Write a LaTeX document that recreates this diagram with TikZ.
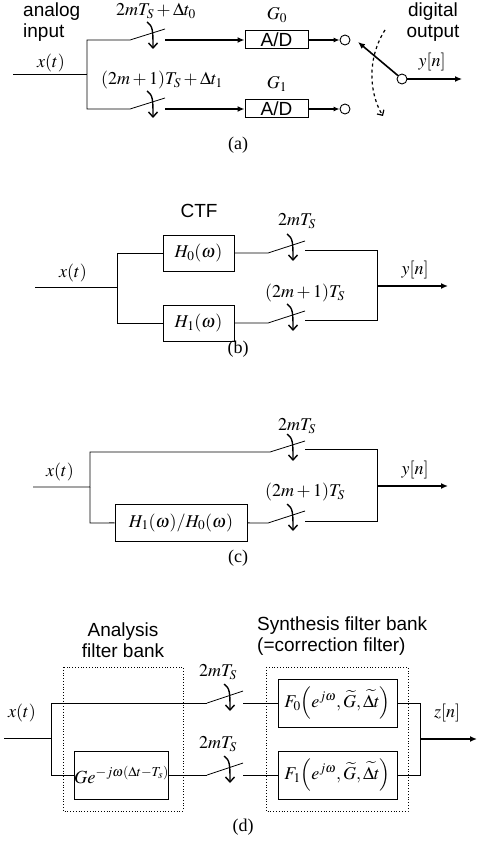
\documentclass[tikz,border=0pt]{standalone}
\usepackage{mathptmx}
\usepackage{fontspec}
\setmainfont{Liberation Serif}
\setsansfont{Liberation Sans}
\usepackage{tikz}
\usetikzlibrary{arrows.meta}

\begin{document}
\begin{tikzpicture}[x=1pt,y=-1pt,
  every node/.style={font=\fontsize{18}{21}\selectfont, inner sep=0pt},
  sans/.style={font=\sffamily\fontsize{19}{21}\selectfont},
  wire/.style={line width=0.8pt},
  sig/.style={line width=1.6pt, -{Latex[length=7pt,width=6pt]}},
  blk/.style={draw, line width=1pt},
  bank/.style={dotted, line width=0.8pt},
  port/.style={circle, draw, line width=0.9pt, minimum size=10pt},
  clk/.pic={\draw[line width=1.4pt, -{Straight Barb[length=5pt,width=9pt]}] (-6,-11) .. controls (0,-7) and (0,-2) .. (0,16);}]
  \useasboundingbox (0,0) rectangle (477,845);

  % (a)
  \node[sans, align=left, anchor=west] (ain) at (23,22) {analog\\input};
  \node (xa) at (51,63) {$x(t)$};
  \coordinate (ain0) at (13,74);
  \coordinate (aj) at (87,74);
  \draw[wire] (ain0) -- (aj);
  \foreach \i/\y in {0/40,1/109}{
    \coordinate (aj\i) at (87,\y);
    \coordinate (asw\i) at (130,\y);
    \coordinate (alv\i) at (165,\y-11);
    \coordinate (aso\i) at (165,\y);
    \node[blk, sans, minimum width=63pt, minimum height=18pt] (ad\i) at (276.5,\y) {A/D};
    \node (g\i) at (277,\y-25) {$G_\i$};
    \node[port] (ap\i) at (345,\y) {};
    \draw[wire] (aj) -- (aj\i) -- (asw\i) -- (alv\i);
    \draw[sig] (aso\i) -- (ad\i);
    \draw[line width=1.2pt, -{Latex[length=6pt,width=5pt]}] (ad\i) -- (ap\i);
    \pic at (153,\y-7) {clk};
  }
  \node (ta0) at (156,11) {$2mT_S+\Delta t_0$};
  \node (ta1) at (162,80) {$(2m+1)T_S+\Delta t_1$};
  \node[port] (aout) at (402,79) {};
  \coordinate (aend) at (462,79);
  \coordinate (arm) at (358,42);
  \draw[sig, line width=1.2pt] (aout) -- (aend);
  \draw[sig] (aout) -- (arm);
  \draw[line width=1.2pt, dashed, -{Straight Barb[length=4pt,width=8pt]}] (385,30) .. controls (366,60) and (370,95) .. (383,116);
  \node[sans, align=center] (dout) at (433,22) {digital\\output};
  \node (ya) at (432,62) {$y[n]$};

  \foreach \x/\y/\c in {238/145/a,238/349/b,238/558/c,243/827/d}{\node (cap\c) at (\x,\y) {(\c)};}

  % (b)
  \node (xb) at (73,273) {$x(t)$};
  \node[sans] (ctf) at (199,211) {CTF};
  \coordinate (bin) at (35,287);
  \coordinate (bj) at (117,287);
  \coordinate (bo) at (377,286);
  \coordinate (bend) at (448,286);
  \draw[wire] (bin) -- (bj);
  \foreach \i/\y in {0/253,1/323}{
    \coordinate (bj\i) at (117,\y);
    \node[blk, minimum width=71pt, minimum height=36pt] (h\i) at (198.5,\y) {$H_\i(\omega)$};
    \coordinate (bsw\i) at (268,\y);
    \coordinate (blv\i) at (305,\y-12);
    \coordinate (bso\i) at (305,\y-3);
    \coordinate (bo\i) at (377,\y-3);
    \draw[wire] (bj) -- (bj\i) -- (h\i);
    \draw[wire] (h\i) -- (bsw\i) -- (blv\i);
    \draw[wire] (bso\i) -- (bo\i) -- (bo);
    \pic at (293,\y-8) {clk};
  }
  \draw[sig] (bo) -- (bend);
  \node (tb0) at (297,221) {$2mT_S$};
  \node (tb1) at (305,293) {$(2m+1)T_S$};
  \node (yb) at (415,270) {$y[n]$};

  % (c)
  \node (xc) at (60,472) {$x(t)$};
  \coordinate (cin) at (33,487);
  \coordinate (cj) at (90,487);
  \coordinate (co) at (377,486);
  \coordinate (cend) at (448,486);
  \node[blk, minimum width=132pt, minimum height=37pt] (hr) at (181,522.5) {$H_1(\omega)/H_0(\omega)$};
  \coordinate (cj0) at (90,452);
  \coordinate (csw0) at (270,452);
  \coordinate (clv0) at (305,441);
  \coordinate (cso0) at (305,449);
  \coordinate (co0) at (377,449);
  \coordinate (cj1) at (90,523);
  \coordinate (csw1) at (268,523);
  \coordinate (clv1) at (305,511);
  \coordinate (cso1) at (305,521);
  \coordinate (co1) at (377,521);
  \draw[wire] (cin) -- (cj) -- (cj0) -- (csw0) -- (clv0);
  \draw[wire] (cj) -- (cj1) -- (hr);
  \draw[wire] (hr) -- (csw1) -- (clv1);
  \draw[wire] (cso0) -- (co0) -- (co1) -- (cso1);
  \draw[sig] (co) -- (cend);
  \pic at (293,445) {clk};
  \pic at (293,515) {clk};
  \node (tc0) at (297,426) {$2mT_S$};
  \node (tc1) at (305,492) {$(2m+1)T_S$};
  \node (yc) at (415,470) {$y[n]$};

  % (d)
  \node[sans, align=center] (anl) at (123,640) {Analysis\\filter bank};
  \draw[bank] (63,667) rectangle (183,811);
  \node[sans, align=left, anchor=west] (syn) at (257,636.5) {Synthesis filter bank\\(=correction filter)};
  \draw[bank] (266,667) rectangle (408,811);
  \node (xd) at (22,713) {$x(t)$};
  \coordinate (din) at (4,738);
  \coordinate (dj) at (51,738);
  \coordinate (do) at (420,739);
  \coordinate (dend) at (477,739);
  \node[blk, minimum width=93pt, minimum height=48pt, font=\fontsize{18.5}{22}\selectfont] (ge) at (121.5,775) {$Ge^{-j\omega(\Delta t-T_s)}$};
  \foreach \i/\y in {0/703,1/775}{
    \coordinate (dj\i) at (51,\y);
    \coordinate (dsw\i) at (207,\y);
    \coordinate (dlv\i) at (243,\y-12);
    \coordinate (dso\i) at (243,\y);
    \coordinate (do\i) at (420,\y);
    \node[blk, minimum width=119pt, minimum height=48pt] (f\i) at (337.5,\y) {$F_\i\Bigl(e^{j\omega},\widetilde{G},\widetilde{\Delta t}\Bigr)$};
    \node (td\i) at (218,\y-31) {$2mT_S$};
    \draw[wire] (dsw\i) -- (dlv\i);
    \draw[wire] (dso\i) -- (f\i);
    \draw[wire] (f\i) -- (do\i) -- (do);
    \pic at (230,\y-8) {clk};
  }
  \draw[wire] (din) -- (dj) -- (dj0) -- (dsw0);
  \draw[wire] (dj) -- (dj1) -- (ge);
  \draw[wire] (ge) -- (dsw1);
  \draw[sig] (do) -- (dend);
  \node (zd) at (447,713) {$z[n]$};
\end{tikzpicture}
\end{document}
